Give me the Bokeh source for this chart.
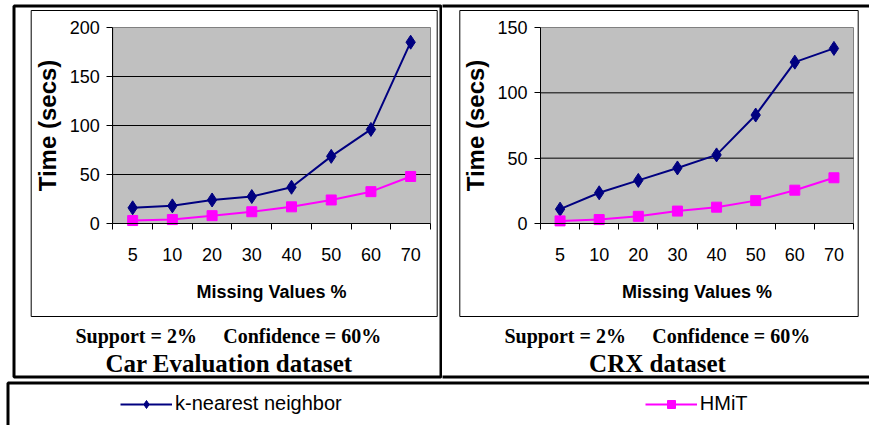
from bokeh.plotting import figure
from bokeh.models import (Range1d, FixedTicker, BoxAnnotation, Label, Legend, LegendItem)
from bokeh.layouts import row, column
from bokeh.embed import file_html
from bokeh.resources import INLINE

# ---- data ----
categories = ["5", "10", "20", "30", "40", "50", "60", "70"]
car_knn = [16, 18, 24, 27.5, 37, 68.5, 96, 185]
car_hmit = [3, 4, 8, 12, 17, 24, 32.5, 48]
crx_knn = [11, 23.5, 33, 42.5, 52.5, 83, 123.5, 134]
crx_hmit = [2, 3, 5.5, 9.5, 12.5, 17.5, 25.5, 35]
car_yticks = [0, 50, 100, 150, 200]
crx_yticks = [0, 50, 100, 150]
series_names = ["k-nearest neighbor", "HMiT"]
support_text = "Support = 2%"
confidence_text = "Confidence = 60%"
car_title = "Car Evaluation dataset"
crx_title = "CRX dataset"
x_title = "Missing Values %"
y_title = "Time (secs)"

# ---- styling / layout constants ----
KNN = "#000080"
HMIT = "#FF00FF"
SANS = "Liberation Sans"
SERIF = "Liberation Serif"
ROW_H = 379
LEG_H = 46


def box(p, H, left, right, top, bottom, width, color="black"):
    """Rectangle given in figure pixel coords (y from top)."""
    p.add_layout(BoxAnnotation(left=left, right=right, top=H - top, bottom=H - bottom,
                               left_units="screen", right_units="screen",
                               top_units="screen", bottom_units="screen",
                               fill_color=None, fill_alpha=0, line_color=color,
                               line_alpha=1, line_width=width, level="overlay"))


def text(p, H, x, y, s, size, align="left"):
    p.add_layout(Label(x=x, y=H - y, x_units="screen", y_units="screen",
                       text=s, text_font=SERIF, text_font_style="bold",
                       text_font_size=size, text_color="black",
                       text_align=align, text_baseline="middle"))


def make_panel(knn, hmit, yticks, title, W, area, inner, table, sup_x, conf_x, title_x):
    n = len(categories)
    xs = list(range(1, n + 1))
    pl, pr, pt, pb = area            # plot area in figure pixels
    ymin, ymax = yticks[0], yticks[-1]
    kx = (pr - pl) / n
    ky = (pb - pt) / (ymax - ymin)
    x_range = Range1d(0.5 - pl / kx, n + 0.5 + (W - pr) / kx)
    y_range = Range1d(ymin - (ROW_H - pb) / ky, ymax + pt / ky)

    p = figure(width=W, height=ROW_H, x_range=x_range, y_range=y_range,
               min_border=0, min_border_left=0, min_border_right=0,
               min_border_top=0, min_border_bottom=0,
               background_fill_color="white", border_fill_color="white",
               outline_line_color=None, toolbar_location=None,
               output_backend="svg")
    p.xgrid.visible = False
    p.ygrid.visible = False

    # grey plot area with thin dark-grey border
    p.add_layout(BoxAnnotation(left=0.5, right=n + 0.5, bottom=ymin, top=ymax,
                               fill_color="#C0C0C0", fill_alpha=1,
                               line_color="#808080", line_alpha=1, line_width=1,
                               level="underlay"))
    gt = yticks[1:-1]
    p.segment(x0=[0.5] * len(gt), x1=[n + 0.5] * len(gt), y0=gt, y1=gt,
              line_color="black", line_width=1)

    xa = p.xaxis[0]
    xa.fixed_location = ymin
    xa.bounds = (0.5, n + 0.5)
    xa.ticker = FixedTicker(ticks=xs,
                            minor_ticks=[x - 0.5 for x in xs] + [xs[-1] + 0.5])
    xa.major_label_overrides = {x: c for x, c in zip(xs, categories)}
    xa.major_tick_out = 0
    xa.major_tick_in = 0
    xa.minor_tick_out = 6
    xa.minor_tick_in = 0
    xa.minor_tick_line_color = "black"
    xa.axis_line_color = "black"
    xa.major_label_text_font = SANS
    xa.major_label_text_font_size = "18px"
    xa.major_label_text_color = "black"
    xa.major_label_standoff = 18
    xa.axis_label = x_title
    xa.axis_label_text_font = SANS
    xa.axis_label_text_font_style = "bold"
    xa.axis_label_text_font_size = "18px"
    xa.axis_label_text_color = "black"
    xa.axis_label_standoff = 18

    ya = p.yaxis[0]
    ya.fixed_location = 0.5
    ya.bounds = (ymin, ymax)
    ya.ticker = FixedTicker(ticks=yticks)
    ya.major_tick_out = 6
    ya.major_tick_in = 0
    ya.minor_tick_line_color = None
    ya.axis_line_color = "black"
    ya.major_tick_line_color = "black"
    ya.major_label_text_font = SANS
    ya.major_label_text_font_size = "18px"
    ya.major_label_text_color = "black"
    ya.major_label_standoff = 7
    ya.axis_label = y_title
    ya.axis_label_text_font = SANS
    ya.axis_label_text_font_style = "bold"
    ya.axis_label_text_font_size = "24px"
    ya.axis_label_text_color = "black"
    ya.axis_label_standoff = 5

    p.line(xs, knn, line_color=KNN, line_width=2)
    p.scatter(xs, knn, marker="diamond", size=14, fill_color=KNN, line_color=KNN)
    p.line(xs, hmit, line_color=HMIT, line_width=2)
    p.scatter(xs, hmit, marker="square", size=10, fill_color=HMIT, line_color=HMIT)

    box(p, ROW_H, *inner, width=1)
    box(p, ROW_H, *table, width=3)

    text(p, ROW_H, sup_x, 335.5, support_text, "20px")
    text(p, ROW_H, conf_x, 335.5, confidence_text, "20px")
    text(p, ROW_H, title_x, 363, title, "25px", align="center")
    return p


p1 = make_panel(car_knn, car_hmit, car_yticks, car_title, 442,
                area=(112.3, 430, 27, 223), inner=(30.7, 436.7, 10, 316),
                table=(13.5, 440.5, 5.5, 376.5),
                sup_x=75, conf_x=222.7, title_x=228.5)
p2 = make_panel(crx_knn, crx_hmit, crx_yticks, crx_title, 427,
                area=(98, 411, 27, 223), inner=(17.3, 415.7, 10, 316),
                table=(-20, 1000, 5.5, 376.5),
                sup_x=62, conf_x=209.7, title_x=215)

# ---- legend strip (series drawn off-screen, only the legend shows) ----
pl = figure(width=869, height=LEG_H, x_range=Range1d(100, 200), y_range=Range1d(0, 1),
            x_axis_type=None, y_axis_type=None, min_border=0,
            min_border_left=0, min_border_right=0, min_border_top=0, min_border_bottom=0,
            outline_line_color=None, background_fill_color="white",
            border_fill_color="white", toolbar_location=None, output_backend="svg")
xs_all = list(range(1, len(categories) + 1))
l1 = pl.line(xs_all, car_knn, line_color=KNN, line_width=2)
m1 = pl.scatter(xs_all, car_knn, marker="diamond", size=8, fill_color=KNN, line_color=KNN)
l2 = pl.line(xs_all, car_hmit, line_color=HMIT, line_width=2)
m2 = pl.scatter(xs_all, car_hmit, marker="square", size=8, fill_color=HMIT, line_color=HMIT)
legend = Legend(items=[LegendItem(label=series_names[0], renderers=[l1, m1]),
                       LegendItem(label=series_names[1], renderers=[l2, m2])],
                orientation="horizontal", location=(120, 10), margin=0, padding=0,
                spacing=303, glyph_width=52, glyph_height=20, label_height=20,
                label_standoff=3, border_line_color=None, background_fill_alpha=0,
                label_text_font=SANS, label_text_font_size="20px",
                label_text_color="black")
pl.add_layout(legend)
box(pl, LEG_H, 7.5, 3000, 3.5, 200, width=3)

layout = column(row(p1, p2), pl)

with open("out.html", "w") as f:
    f.write(file_html(layout, INLINE))
